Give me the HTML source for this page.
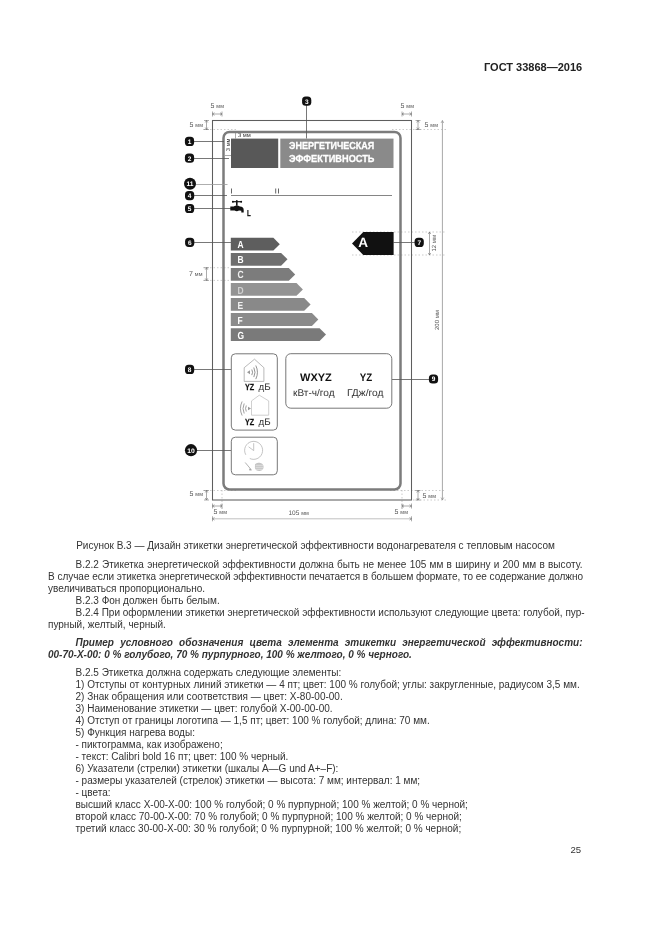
<!DOCTYPE html>
<html><head><meta charset="utf-8">
<style>
html,body{margin:0;padding:0;background:#fff;}
body{width:661px;height:935px;position:relative;overflow:hidden;font-family:"Liberation Sans",sans-serif;color:#333;}
#txt{position:absolute;left:0;top:1.3px;width:661px;height:935px;filter:grayscale(1);}
.t{position:absolute;font-size:10px;line-height:12px;white-space:nowrap;}
.j{text-align:justify;text-align-last:justify;white-space:nowrap;}
.bi{font-weight:bold;font-style:italic;}
#hdr{position:absolute;filter:grayscale(1);left:484px;top:60px;font-size:11px;font-weight:bold;line-height:14px;white-space:nowrap;color:#222;}
svg{position:absolute;left:0;top:0;filter:grayscale(1);}
</style></head><body>
<div id="hdr">ГОСТ 33868—2016</div>

<div id="txt">
<div class="t" style="left:48px;width:535px;top:539px;text-align:center;">Рисунок В.3 — Дизайн этикетки энергетической эффективности водонагревателя с тепловым насосом</div>

<div class="t j" style="left:75.5px;width:507px;top:557.3px;">В.2.2 Этикетка энергетической эффективности должна быть не менее 105 мм в ширину и 200 мм в высоту.</div>
<div class="t j" style="left:48px;width:535px;top:569.3px;letter-spacing:-0.03px;word-spacing:-0.3px;">В случае если этикетка энергетической эффективности печатается в большем формате, то ее содержание должно</div>
<div class="t" style="left:48px;top:581.3px;">увеличиваться пропорционально.</div>
<div class="t" style="left:75.5px;top:593.3px;">В.2.3 Фон должен быть белым.</div>
<div class="t j" style="left:75.5px;width:507px;top:605.3px;">В.2.4 При оформлении этикетки энергетической эффективности используют следующие цвета: голубой, пур-</div>
<div class="t" style="left:48px;top:617.3px;">пурный, желтый, черный.</div>

<div class="t j bi" style="left:75.5px;width:507px;top:635.7px;">Пример условного обозначения цвета элемента этикетки энергетической эффективности:</div>
<div class="t bi" style="left:48px;top:647.5px;">00-70-X-00: 0 % голубого, 70 % пурпурного, 100 % желтого, 0 % черного.</div>

<div class="t" style="left:75.5px;top:665.3px;">В.2.5 Этикетка должна содержать следующие элементы:</div>
<div class="t" style="left:75.5px;top:677.3px;">1) Отступы от контурных линий этикетки — 4 пт; цвет: 100 % голубой; углы: закругленные, радиусом 3,5 мм.</div>
<div class="t" style="left:75.5px;top:689.3px;">2) Знак обращения или соответствия — цвет: X-80-00-00.</div>
<div class="t" style="left:75.5px;top:701.3px;">3) Наименование этикетки — цвет: голубой X-00-00-00.</div>
<div class="t" style="left:75.5px;top:713.3px;">4) Отступ от границы логотипа — 1,5 пт; цвет: 100 % голубой; длина: 70 мм.</div>
<div class="t" style="left:75.5px;top:725.3px;">5) Функция нагрева воды:</div>
<div class="t" style="left:75.5px;top:737.3px;">- пиктограмма, как изображено;</div>
<div class="t" style="left:75.5px;top:749.3px;">- текст: Calibri bold 16 пт; цвет: 100 % черный.</div>
<div class="t" style="left:75.5px;top:761.3px;">6) Указатели (стрелки) этикетки (шкалы A—G und A+–F):</div>
<div class="t" style="left:75.5px;top:773.3px;">- размеры указателей (стрелок) этикетки — высота: 7 мм; интервал: 1 мм;</div>
<div class="t" style="left:75.5px;top:785.3px;">- цвета:</div>
<div class="t" style="left:75.5px;top:797.3px;">высший класс X-00-X-00: 100 % голубой; 0 % пурпурной; 100 % желтой; 0 % черной;</div>
<div class="t" style="left:75.5px;top:809.3px;">второй класс 70-00-X-00: 70 % голубой; 0 % пурпурной; 100 % желтой; 0 % черной;</div>
<div class="t" style="left:75.5px;top:821.3px;">третий класс 30-00-X-00: 30 % голубой; 0 % пурпурной; 100 % желтой; 0 % черной;</div>

<div class="t" style="left:570.5px;top:843.2px;font-size:9.6px;">25</div>

</div>
<!-- DIAGRAM -->
<svg width="661" height="935" viewBox="0 0 661 935" font-family="Liberation Sans, sans-serif" text-rendering="geometricPrecision">
  <g id="dims" stroke="#aaa" stroke-width="0.6" fill="none">
    <line x1="203" y1="129.5" x2="238" y2="129.5" stroke-dasharray="1.5 2"/>
    <line x1="392" y1="129.5" x2="446" y2="129.5" stroke-dasharray="1.5 2"/>
    <line x1="203" y1="490.5" x2="236" y2="490.5" stroke-dasharray="1.5 2"/>
    <line x1="390" y1="490.5" x2="446" y2="490.5" stroke-dasharray="1.5 2"/>
    <line x1="413" y1="500" x2="446" y2="500" stroke-dasharray="1.5 2"/>
    <line x1="222" y1="490" x2="222" y2="509" stroke-dasharray="1.5 2"/>
    <line x1="402" y1="490" x2="402" y2="509" stroke-dasharray="1.5 2"/>
    <line x1="203" y1="267.7" x2="231" y2="267.7" stroke-dasharray="1.5 2"/>
    <line x1="203" y1="280.4" x2="231" y2="280.4" stroke-dasharray="1.5 2"/>
    <line x1="352" y1="232" x2="446" y2="232" stroke-dasharray="1.5 2"/>
    <line x1="352" y1="255" x2="446" y2="255" stroke-dasharray="1.5 2"/>
    <line x1="442.4" y1="120.5" x2="442.4" y2="500" stroke="#a8a8a8" stroke-width="1"/>
    <path d="M441 123 L442.4 120.5 L443.8 123 M441 497.5 L442.4 500 L443.8 497.5" stroke="#888"/>
    <line x1="212.5" y1="518.8" x2="411.5" y2="518.8" stroke="#c0c0c0" stroke-width="1"/>
  </g>
  <g stroke="#666" stroke-width="0.55" fill="none">
    <line x1="212.5" y1="114" x2="222" y2="114"/><path d="M214.5 112.7 L212.5 114 L214.5 115.3 M220 112.7 L222 114 L220 115.3"/><line x1="212.5" y1="111.5" x2="212.5" y2="116.5"/><line x1="222" y1="111.5" x2="222" y2="116.5"/>
    <line x1="402" y1="114" x2="411.5" y2="114"/><path d="M404 112.7 L402 114 L404 115.3 M409.5 112.7 L411.5 114 L409.5 115.3"/><line x1="402" y1="111.5" x2="402" y2="116.5"/><line x1="411.5" y1="111.5" x2="411.5" y2="116.5"/>
    <line x1="206.5" y1="120.5" x2="206.5" y2="129.5"/><path d="M205.2 122.5 L206.5 120.5 L207.8 122.5 M205.2 127.5 L206.5 129.5 L207.8 127.5"/><line x1="204.0" y1="120.5" x2="209.0" y2="120.5"/><line x1="204.0" y1="129.5" x2="209.0" y2="129.5"/>
    <line x1="418" y1="120.5" x2="418" y2="129.5"/><path d="M416.7 122.5 L418 120.5 L419.3 122.5 M416.7 127.5 L418 129.5 L419.3 127.5"/><line x1="415.5" y1="120.5" x2="420.5" y2="120.5"/><line x1="415.5" y1="129.5" x2="420.5" y2="129.5"/>
    <line x1="206.5" y1="490.5" x2="206.5" y2="500"/><path d="M205.2 492.5 L206.5 490.5 L207.8 492.5 M205.2 498 L206.5 500 L207.8 498"/><line x1="204.0" y1="490.5" x2="209.0" y2="490.5"/><line x1="204.0" y1="500" x2="209.0" y2="500"/>
    <line x1="418" y1="490.5" x2="418" y2="500"/><path d="M416.7 492.5 L418 490.5 L419.3 492.5 M416.7 498 L418 500 L419.3 498"/><line x1="415.5" y1="490.5" x2="420.5" y2="490.5"/><line x1="415.5" y1="500" x2="420.5" y2="500"/>
    <line x1="212.5" y1="506" x2="222" y2="506"/><path d="M214.5 504.7 L212.5 506 L214.5 507.3 M220 504.7 L222 506 L220 507.3"/><line x1="212.5" y1="503.5" x2="212.5" y2="508.5"/><line x1="222" y1="503.5" x2="222" y2="508.5"/>
    <line x1="402" y1="506" x2="411.5" y2="506"/><path d="M404 504.7 L402 506 L404 507.3 M409.5 504.7 L411.5 506 L409.5 507.3"/><line x1="402" y1="503.5" x2="402" y2="508.5"/><line x1="411.5" y1="503.5" x2="411.5" y2="508.5"/>
    <path d="M214.5 517.5 L212.5 518.8 L214.5 520.0999999999999 M409.5 517.5 L411.5 518.8 L409.5 520.0999999999999"/><line x1="212.5" y1="516.3" x2="212.5" y2="521.3"/><line x1="411.5" y1="516.3" x2="411.5" y2="521.3"/>
    <line x1="206.5" y1="267.7" x2="206.5" y2="280.4"/><path d="M205.2 269.7 L206.5 267.7 L207.8 269.7 M205.2 278.4 L206.5 280.4 L207.8 278.4"/><line x1="204.0" y1="267.7" x2="209.0" y2="267.7"/><line x1="204.0" y1="280.4" x2="209.0" y2="280.4"/>
    <line x1="429.5" y1="232" x2="429.5" y2="255"/><path d="M428.2 234 L429.5 232 L430.8 234 M428.2 253 L429.5 255 L430.8 253"/>
    <line x1="235.5" y1="133" x2="235.5" y2="138.5"/>
    <line x1="225" y1="155.5" x2="231" y2="155.5"/>
  </g>
  <g id="dimtext" fill="#555" font-size="7">
    <text x="210.5" y="108">5 <tspan font-size="5.5">мм</tspan></text>
    <text x="400.5" y="108">5 <tspan font-size="5.5">мм</tspan></text>
    <text x="189.5" y="126.5">5 <tspan font-size="5.5">мм</tspan></text>
    <text x="424.5" y="126.5">5 <tspan font-size="5.5">мм</tspan></text>
    <text x="189.5" y="496">5 <tspan font-size="5.5">мм</tspan></text>
    <text x="422.5" y="497.5">5 <tspan font-size="5.5">мм</tspan></text>
    <text x="213.5" y="513.5">5 <tspan font-size="5.5">мм</tspan></text>
    <text x="394.5" y="513.5">5 <tspan font-size="5.5">мм</tspan></text>
    <text x="288.5" y="515" font-size="6.5">105 <tspan font-size="5.5">мм</tspan></text>
    <text x="238" y="137.2" font-size="5.8" fill="#333">3 мм</text>
    <text transform="translate(229.9,151.2) rotate(-90)" font-size="5.8" fill="#333">3 мм</text>
    <text x="189" y="276.3">7 <tspan font-size="5.5">мм</tspan></text>
    <text transform="translate(436.3,251.5) rotate(-90)" font-size="6">12 мм</text>
    <text transform="translate(439,330) rotate(-90)" font-size="6">200 мм</text>
  </g>

  <!-- outer frame -->
  <rect x="212.5" y="120.5" width="199" height="379.5" fill="none" stroke="#5e5e5e" stroke-width="1.05"/>
  <!-- inner rounded rect -->
  <rect x="223.5" y="131.9" width="177" height="357.6" rx="6" fill="none" stroke="#7c7c7c" stroke-width="2.5"/>
  <!-- header boxes -->
  <rect x="231" y="138.6" width="47.2" height="29.4" fill="#585858"/>
  <rect x="280.3" y="138.6" width="113.2" height="29.4" fill="#8a8a8a"/>
  <g fill="#fff" stroke="#fff" stroke-width="0.3" font-weight="bold" font-size="10.2">
    <text x="289" y="149.4" textLength="85.3" lengthAdjust="spacingAndGlyphs">ЭНЕРГЕТИЧЕСКАЯ</text>
    <text x="289" y="162.4" textLength="85.5" lengthAdjust="spacingAndGlyphs">ЭФФЕКТИВНОСТЬ</text>
  </g>

  <!-- leader lines -->
  <g stroke="#555" stroke-width="0.8">
    <line x1="190" y1="141.5" x2="224" y2="141.5"/>
    <line x1="190" y1="158.5" x2="229" y2="158.5"/>
    <line x1="306.5" y1="101" x2="306.5" y2="138.5"/>
    <line x1="190" y1="184.5" x2="227.5" y2="184.5" stroke="#999"/>
    <line x1="190" y1="195.5" x2="227" y2="195.5"/>
    <line x1="190" y1="208.5" x2="232" y2="208.5"/>
    <line x1="190" y1="242.5" x2="231" y2="242.5"/>
    <line x1="393.6" y1="242.5" x2="419" y2="242.5"/>
    <line x1="190" y1="369.5" x2="231" y2="369.5"/>
    <line x1="392" y1="379.5" x2="433" y2="379.5"/>
    <line x1="190" y1="450.5" x2="231" y2="450.5"/>
  </g>
  <!-- line 4 -->
  <line x1="231" y1="195.5" x2="392" y2="195.5" stroke="#777" stroke-width="0.9"/>
  <g stroke="#555" stroke-width="0.9">
    <line x1="231.5" y1="188.5" x2="231.5" y2="193.5"/>
    <line x1="275.7" y1="188.5" x2="275.7" y2="193.5"/>
    <line x1="278.5" y1="188.5" x2="278.5" y2="193.5"/>
  </g>
  <!-- faucet -->
  <g fill="#111">
    <rect x="232.4" y="201.1" width="9.2" height="1.2"/>
    <circle cx="232.9" cy="201.7" r="0.95"/>
    <circle cx="241.2" cy="201.7" r="0.95"/>
    <circle cx="236.8" cy="200.9" r="0.9"/>
    <rect x="236" y="201.5" width="1.6" height="4.2"/>
    <path d="M230.3 206.4 H233.6 Q236.8 204.6 240 206.4 Q243.7 206.6 243.7 210 V212.4 H241.3 V210.7 Q240 210.5 239 210.5 Q236.8 211.8 234.6 210.5 H230.3 Z"/>
  </g>
  <text x="247.1" y="216" font-size="8.4" font-weight="bold" fill="#1a1a1a" stroke="#1a1a1a" stroke-width="0.35" textLength="3.7" lengthAdjust="spacingAndGlyphs">L</text>

  <!-- energy arrows -->
  <g font-weight="bold" font-size="10.3" fill="#fff">
    <path d="M230.8 237.8 H273.4 L279.8 244.2 L273.4 250.6 H230.8 Z" fill="#5e5e5e"/>
    <path d="M230.8 252.9 H281.1 L287.5 259.3 L281.1 265.7 H230.8 Z" fill="#6f6f6f"/>
    <path d="M230.8 268 H288.8 L295.2 274.4 L288.8 280.8 H230.8 Z" fill="#7c7c7c"/>
    <path d="M230.8 283 H296.5 L302.9 289.4 L296.5 295.8 H230.8 Z" fill="#939393"/>
    <path d="M230.8 298 H304.2 L310.6 304.4 L304.2 310.8 H230.8 Z" fill="#898989"/>
    <path d="M230.8 313.1 H311.9 L318.3 319.5 L311.9 325.9 H230.8 Z" fill="#8b8b8b"/>
    <path d="M230.8 328.2 H319.6 L326 334.6 L319.6 341 H230.8 Z" fill="#7a7a7a"/>
    <g transform="translate(237.6,0) scale(0.82,1)">
    <text x="0" y="248.2">A</text>
    <text x="0" y="263.3">B</text>
    <text x="0" y="278.4" fill="#eee">C</text>
    <text x="0" y="293.5" fill="#d0d0d0">D</text>
    <text x="0" y="308.5" fill="#f0f0f0">E</text>
    <text x="0" y="323.6">F</text>
    <text x="0" y="338.7">G</text>
    </g>
  </g>

  <!-- class indicator -->
  <path d="M352 243.5 L363.3 232 H393.6 V255 H363.3 Z" fill="#111"/>
  <text x="358.3" y="247.4" font-weight="bold" font-size="13.6" fill="#fff">A</text>

  <!-- box 8 -->
  <rect x="231.3" y="353.8" width="46" height="76.3" rx="4" fill="none" stroke="#777" stroke-width="1"/>
  <!-- box 9 -->
  <rect x="285.8" y="353.7" width="106" height="54.5" rx="5" fill="none" stroke="#777" stroke-width="1"/>
  <!-- box 10 -->
  <rect x="231.3" y="437.2" width="46" height="37.6" rx="4" fill="none" stroke="#777" stroke-width="1"/>

  <g font-weight="bold" font-size="11" fill="#111">
    <text x="300" y="381">WXYZ</text>
    <text x="359.8" y="381" textLength="12.4" lengthAdjust="spacingAndGlyphs">YZ</text>
  </g>
  <g font-size="9.8" fill="#333">
    <text x="293" y="395.5" textLength="41.6" lengthAdjust="spacingAndGlyphs">кВт-ч/год</text>
    <text x="347" y="395.5" textLength="36.5" lengthAdjust="spacingAndGlyphs">ГДж/год</text>
  </g>

  <!-- house icons -->
  <g fill="none" stroke="#8a8a8a" stroke-width="0.6">
    <path d="M244.2 381.4 V367.7 L254.5 359.2 L263.9 367.7 V381.4 Z"/>
  </g>
  <g fill="none" stroke="#777" stroke-width="0.8">
    <path d="M251.8 369.5 Q253.3 372.3 251.8 375.1"/>
    <path d="M253.8 367.5 Q256.2 372.3 253.8 377.1"/>
    <path d="M255.8 365.5 Q259.1 372.3 255.8 379.1"/>
  </g>
  <path d="M247 372.3 L250 370.3 V374.3 Z" fill="#999"/>
  <g fill="none" stroke="#b0b0b0" stroke-width="0.6">
    <path d="M251.5 415.2 V400.9 L259.3 395.2 L268.7 400.9 V415.2 Z"/>
  </g>
  <g fill="none" stroke="#888" stroke-width="0.8">
    <path d="M246.3 405.5 Q244.8 408.5 246.3 411.5"/>
    <path d="M244.2 403.5 Q241.8 408.5 244.2 413.5"/>
    <path d="M242.1 401.5 Q238.8 408.5 242.1 415.5"/>
  </g>
  <path d="M251 408.5 L248 406.7 V410.3 Z" fill="#999"/>
  <g fill="#111" stroke="#111" stroke-width="0.25" font-weight="bold" font-size="8.8">
    <text x="245" y="390.3" textLength="9.3" lengthAdjust="spacingAndGlyphs">YZ</text>
    <text x="245" y="425.3" textLength="9.3" lengthAdjust="spacingAndGlyphs">YZ</text>
  </g>
  <g fill="#333" font-size="9.4">
    <text x="258.6" y="390.3" textLength="12.2" lengthAdjust="spacingAndGlyphs">дБ</text>
    <text x="258.6" y="425.3" textLength="12.2" lengthAdjust="spacingAndGlyphs">дБ</text>
  </g>
  <!-- clock icon -->
  <g fill="none" stroke="#b0b0b0" stroke-width="0.75">
    <path d="M245.8 454.8 A9 9 0 1 1 249.8 458.5"/>
    <path d="M253.7 450.6 V443.2 M253.7 450.6 L248.6 446.8"/>
    <path d="M245.2 462.5 L251.3 469.8" stroke="#999"/>
  </g>
  <path d="M249.8 468.2 L251.8 470.6 L249 470.3 Z" fill="#999"/>
  <path d="M255 464.2 Q256.5 462.3 259.5 462.8 Q263.4 463.3 263.6 466.8 Q263.5 470.6 259.8 470.9 Q255.6 471.1 254.9 468 Z" fill="#c4c4c4"/>
  <g stroke="#fff" stroke-width="0.45">
    <line x1="255.5" y1="465.3" x2="263" y2="465.3"/>
    <line x1="255.5" y1="467.3" x2="263" y2="467.3"/>
    <line x1="255.5" y1="469.3" x2="263" y2="469.3"/>
  </g>

  <!-- markers -->
  <g fill="#111">
    <rect x="184.9" y="136.8" width="9.2" height="9.2" rx="3.6"/>
    <rect x="184.9" y="153.6" width="9.2" height="9.2" rx="3.6"/>
    <rect x="302.1" y="96.6" width="9.2" height="9.2" rx="3.6"/>
    <rect x="185.0" y="191.0" width="9.2" height="9.2" rx="3.6"/>
    <rect x="185.0" y="203.9" width="9.2" height="9.2" rx="3.6"/>
    <rect x="185.1" y="237.7" width="9.2" height="9.2" rx="3.6"/>
    <rect x="414.6" y="237.8" width="9.2" height="9.2" rx="3.6"/>
    <rect x="185.0" y="364.8" width="9.2" height="9.2" rx="3.6"/>
    <rect x="428.9" y="374.4" width="9.2" height="9.2" rx="3.6"/>
    <circle cx="190" cy="183.8" r="6"/>
    <circle cx="191" cy="450.2" r="6.1"/>
  </g>
  <g fill="#fff" font-weight="bold" font-size="6.5" text-anchor="middle">
    <text x="189.5" y="143.7">1</text>
    <text x="189.5" y="160.5">2</text>
    <text x="306.7" y="103.5">3</text>
    <text x="189.6" y="197.9">4</text>
    <text x="189.6" y="210.8">5</text>
    <text x="189.7" y="244.6">6</text>
    <text x="419.2" y="244.7">7</text>
    <text x="189.6" y="371.7">8</text>
    <text x="433.5" y="381.3">9</text>
    <text x="190" y="186.1" font-size="6.4" textLength="7" lengthAdjust="spacingAndGlyphs">11</text>
    <text x="191" y="452.5" font-size="6.4" textLength="7.5" lengthAdjust="spacingAndGlyphs">10</text>
  </g>
</svg>
</body></html>
